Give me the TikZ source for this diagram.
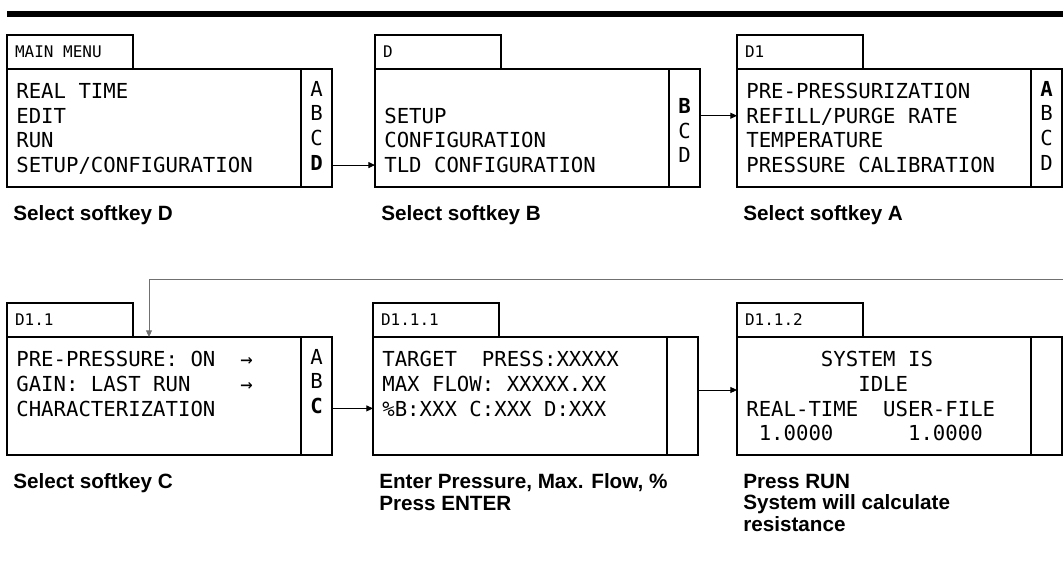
\documentclass[tikz,border=0pt]{standalone}
\usepackage{fontspec}
\setmainfont{Liberation Sans}
\newfontfamily\lcdfont{DejaVu Sans Mono}
\usetikzlibrary{arrows.meta,positioning}
\definecolor{loopgray}{HTML}{707070}
\newcommand\lcdspace{\spaceskip=0.602em\xspaceskip=0.602em\relax}
\newcommand\lcdtop{\lcdspace\rule{0pt}{15pt}}
\newcommand\lcdbot{\rule[-3.5pt]{0pt}{3.5pt}}

\begin{document}
\begin{tikzpicture}[x=0.75pt,y=-0.75pt,
  screen/.style={draw,line width=0.9pt,outer sep=0pt,inner xsep=7pt,inner ysep=0pt,
    minimum width=220.5pt,minimum height=88.5pt,text width=206.5pt,align=left,
    font=\lcdfont\fontsize{15.5}{18.5}\selectfont,
    execute at begin node=\lcdtop,execute at end node=\lcdbot},
  keycol/.style={draw,line width=0.9pt,outer sep=0pt,inner sep=0pt,
    minimum width=23.25pt,minimum height=88.5pt,align=center,
    font=\lcdfont\fontsize{15.5}{18.5}\selectfont,
    execute at begin node=\lcdtop,execute at end node=\lcdbot},
  tab/.style={draw,line width=0.9pt,outer sep=0pt,inner xsep=6pt,inner ysep=0pt,
    minimum width=94.5pt,minimum height=25.5pt,text width=82.5pt,align=left,
    font=\lcdfont\fontsize{12}{14}\selectfont,execute at begin node=\lcdspace},
  caption/.style={inner sep=0pt,align=left,font=\bfseries\fontsize{15.5}{16.2}\selectfont},
  sep/.style={line width=1.8pt},
  arrow/.style={-{Triangle[length=5pt,width=4.5pt]},line width=0.7pt}
]
  \useasboundingbox (0,0) rectangle (1063,567);
  \fill (7,11) rectangle (1063,17);

  % first row
  \node[screen,anchor=north west] (s1) at (7,69) {REAL TIME\\EDIT\\RUN\\SETUP/CONFIGURATION};
  \node[keycol,right=0pt of s1] (k1) {A\\B\\C\\\textbf{D}};
  \node[tab,above right=0pt and 0pt of s1.north west] (t1) {MAIN MENU};
  \node[caption,below right=14pt and 4.5pt of s1.south west] (c1) {Select softkey D};

  \node[screen,right=32.25pt of k1] (s2) {\\SETUP\\CONFIGURATION\\TLD CONFIGURATION};
  \node[keycol,right=0pt of s2] (k2) {\\\textbf{B}\\C\\D};
  \node[tab,above right=0pt and 0pt of s2.north west] (t2) {D};
  \node[caption,below right=14pt and 4.5pt of s2.south west] (c2) {Select softkey B};

  \node[screen,right=27.75pt of k2] (s3) {PRE-PRESSURIZATION\\REFILL/PURGE RATE\\TEMPERATURE\\PRESSURE CALIBRATION};
  \node[keycol,right=0pt of s3] (k3) {\textbf{A}\\B\\C\\D};
  \node[tab,above right=0pt and 0pt of s3.north west] (t3) {D1};
  \node[caption,below right=14pt and 4.5pt of s3.south west] (c3) {Select softkey A};

  % second row
  \node[screen,below=112.5pt of s1] (s4) {PRE-PRESSURE: ON~~→\\GAIN: LAST RUN~~~~→\\CHARACTERIZATION\\};
  \node[keycol,right=0pt of s4] (k4) {A\\B\\\textbf{C}\\};
  \node[tab,above right=0pt and 0pt of s4.north west] (t4) {D1.1};
  \node[caption,below right=14pt and 4.5pt of s4.south west] (c4) {Select softkey C};

  \node[screen,right=30.75pt of k4] (s5) {TARGET~~PRESS:XXXXX\\MAX FLOW: XXXXX.XX\\\%B:XXX C:XXX D:XXX\\};
  \node[keycol,right=0pt of s5] (k5) {};
  \node[tab,above right=0pt and 0pt of s5.north west] (t5) {D1.1.1};
  \node[caption,below right=14pt and 4.5pt of s5.south west] (c5) {Enter Pressure, Max. Flow, \%\\Press ENTER};

  \node[screen,right=29.25pt of k5] (s6) {\mbox{}~~~~~~SYSTEM IS\\\mbox{}~~~~~~~~~IDLE\\REAL-TIME~~USER-FILE\\\mbox{}~1.0000~~~~~~1.0000};
  \node[keycol,right=0pt of s6] (k6) {};
  \node[tab,above right=0pt and 0pt of s6.north west] (t6) {D1.1.2};
  \node[caption,below right=14pt and 4.5pt of s6.south west] (c6) {Press RUN\\System will calculate\\resistance};

  \foreach \k in {k1,k2,k3,k4,k5,k6}
    \draw[sep] (\k.north west) -- (\k.south west);

  \draw[arrow] ([yshift=-27.8pt]k1.east) -- ([yshift=-27.8pt]s2.west);
  \draw[arrow] ([yshift=9.2pt]k2.east) -- ([yshift=9.2pt]s3.west);
  \draw[arrow] ([yshift=-9.3pt]k4.east) -- ([yshift=-9.3pt]s5.west);
  \draw[arrow] ([yshift=4.5pt]k5.east) -- ([yshift=4.5pt]s6.west);

  \coordinate (loopin) at (1063,279);
  \draw[arrow,draw=loopgray] (loopin) -| ([xshift=-3.75pt]s4.north);
\end{tikzpicture}
\end{document}
